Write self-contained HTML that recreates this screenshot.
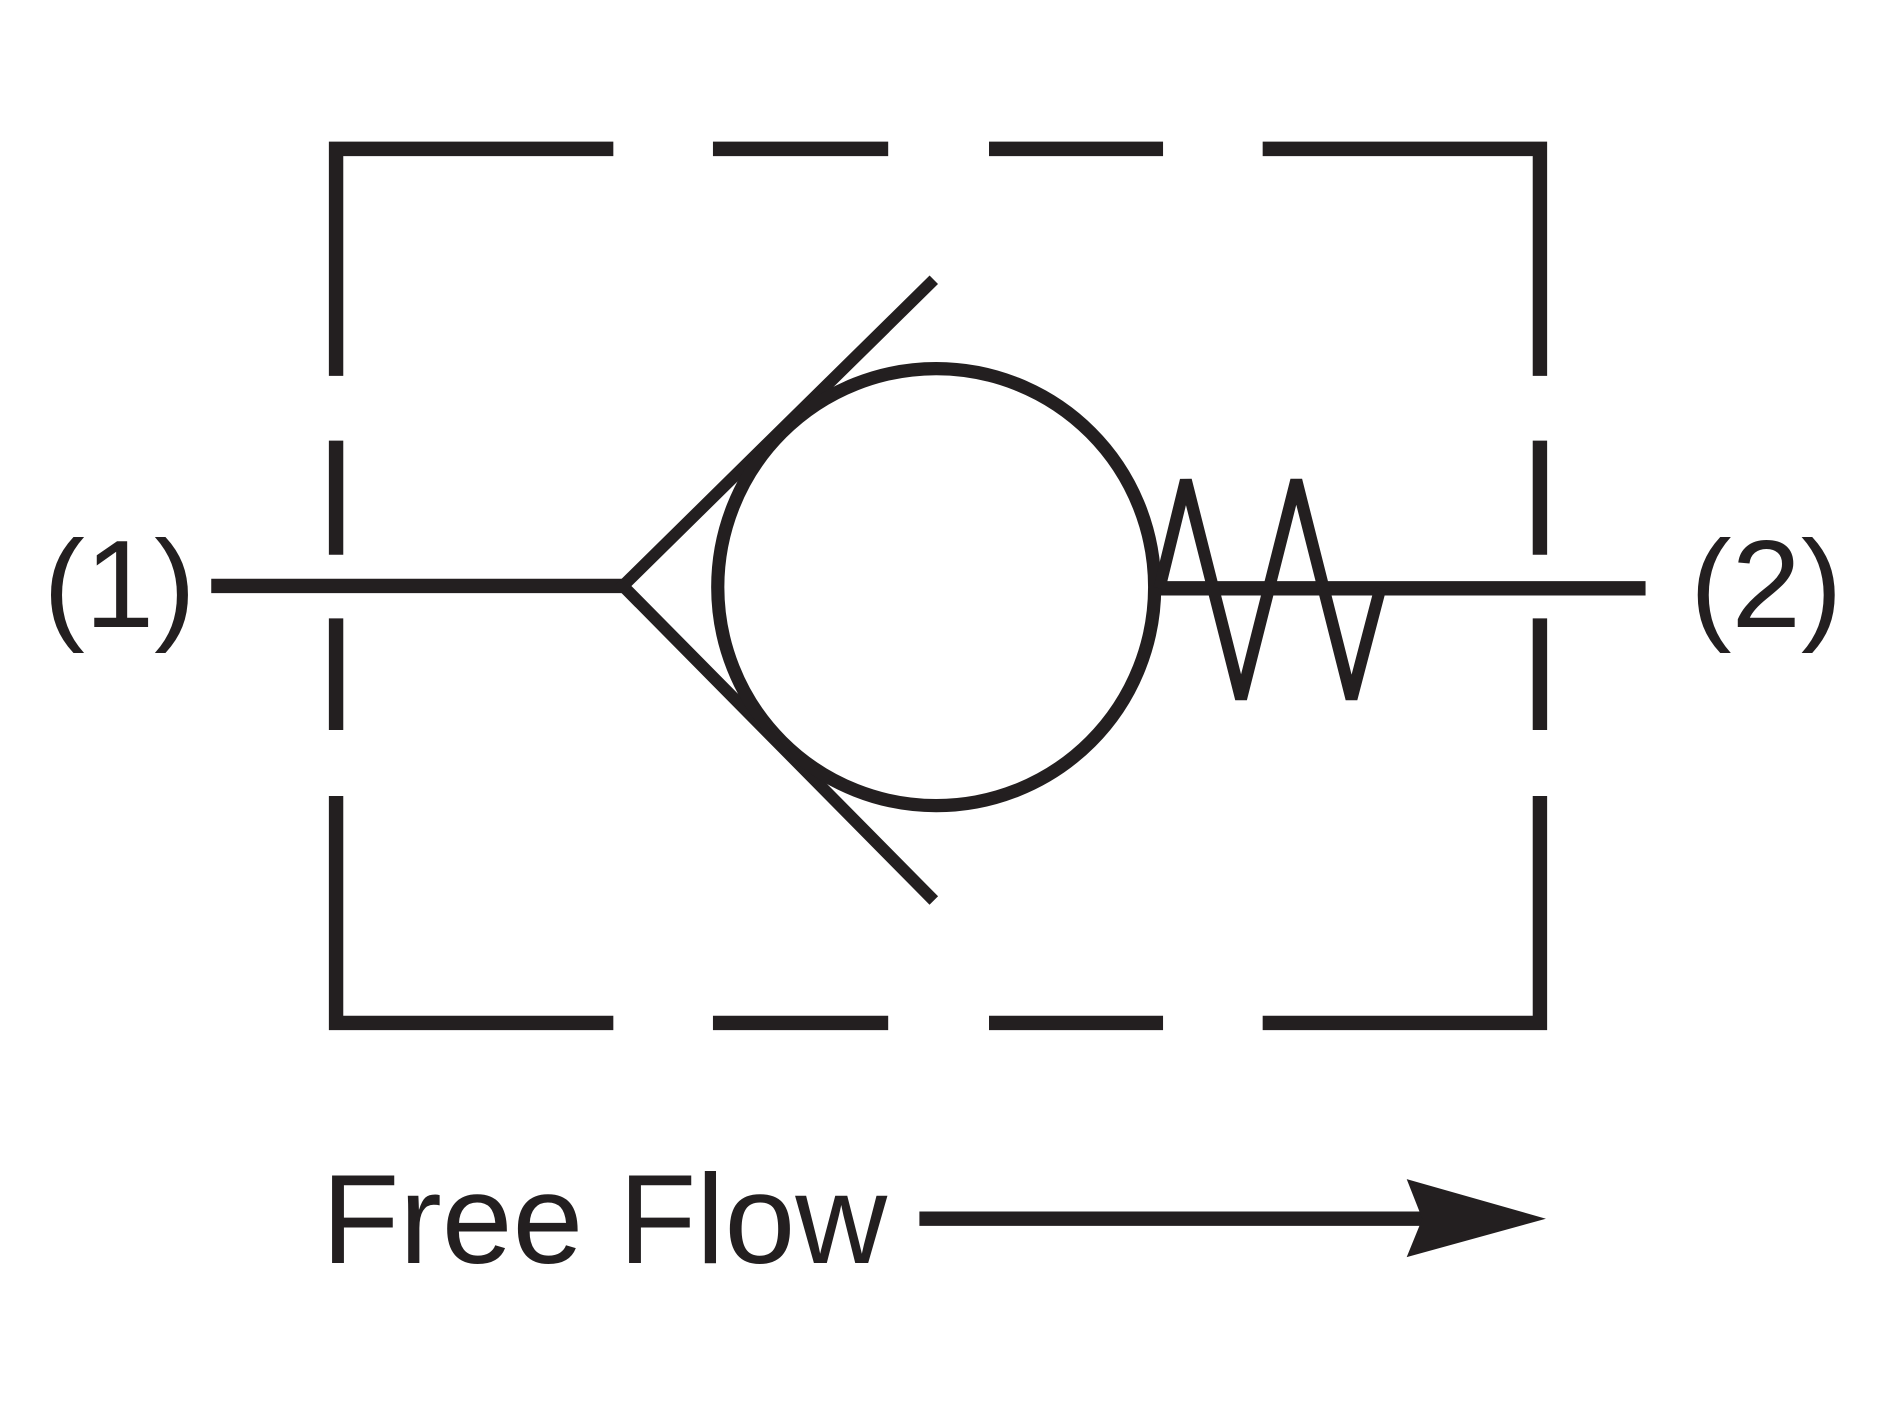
<!DOCTYPE html>
<html><head><meta charset="utf-8"><style>html,body{margin:0;padding:0;background:#fff}svg{display:block}</style></head>
<body>
<svg width="1882" height="1412" viewBox="0 0 1568 1176" preserveAspectRatio="none" xmlns="http://www.w3.org/2000/svg">
<g stroke="#231f20" stroke-width="12" fill="none" stroke-linecap="butt">
<path d="M511 124H280V313M594 124H740M824 124H969M1052 124H1283V313"/>
<path d="M280 367V462M280 515V608M280 663V852H511M594 852H740M824 852H969M1052 852H1283V663"/>
<path d="M1283 367V462M1283 515V608"/>
<line x1="176" y1="488" x2="520" y2="488"/>
<line x1="966" y1="490" x2="1371" y2="490"/>
<path d="M778 233L519 488L778 750" stroke-width="10"/>
<circle cx="780" cy="489" r="182" stroke-width="11"/>
<path d="M966 490L988 400L1034 582L1080 400L1126 582L1150 490" stroke-width="10" stroke-linejoin="miter"/>
<line x1="766" y1="1015" x2="1190" y2="1015"/>
</g>
<path d="M1288 1015L1172 982L1185 1015L1172 1047Z" fill="#231f20"/>
<g font-family="Liberation Sans, sans-serif" fill="#231f20">
<text x="36" y="522" font-size="104">(1)</text>
<text x="1408" y="522" font-size="104">(2)</text>
<text x="268" y="1052" font-size="106">Free Flow</text>
</g>
</svg>
</body></html>
